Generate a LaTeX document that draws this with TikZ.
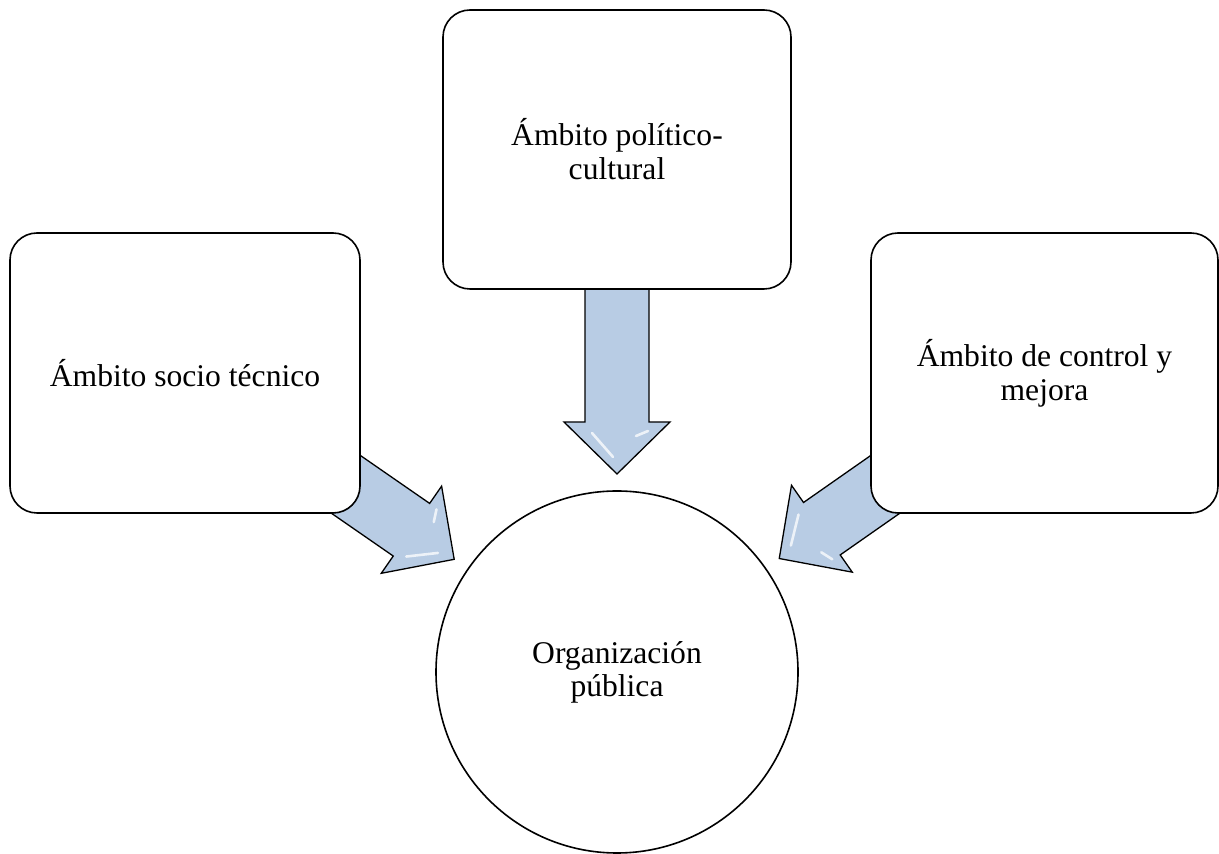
\documentclass[tikz,border=0pt]{standalone}
\usepackage{fontspec}
\setmainfont{Liberation Serif}
\usetikzlibrary{calc}
\pgfdeclarelayer{bg}
\pgfsetlayers{bg,main}
\definecolor{arrowblue}{RGB}{184,204,228}
\tikzset{
  ambox/.style={draw=black, line width=1.6pt, fill=white, rounded corners=27pt,
    align=center, inner sep=0pt, font=\fontsize{31.6}{34}\selectfont},
  orgcircle/.style={draw=black, line width=1.6pt, fill=white, circle,
    minimum size=362pt, align=center, inner sep=0pt, font=\fontsize{31.6}{33}\selectfont},
  blockarrow/.style={draw=black, line width=1.3pt, line join=miter, fill=arrowblue},
  streak/.style={draw=white, line width=2.6pt, line cap=round, opacity=0.75}
}
\newcommand\bigarrow[2]{%
  \path let \p1=($(#1.center)-(#2.center)$), \n1={atan2(\y1,\x1)} in
    \pgfextra{\xdef\arrang{\n1}};
  \begin{scope}[shift={(#2.center)}, rotate=\arrang]
    \draw[blockarrow] (198,0) -- (250,53) -- (250,32) -- (398,32) -- (398,-32)
      -- (250,-32) -- (250,-53) -- cycle;
    \draw[streak] (239,25) -- (215,4);
    \draw[streak] (236,-19) -- (241,-31);
  \end{scope}
}
\begin{document}
\begin{tikzpicture}[x=1pt,y=1pt]
\useasboundingbox (0,0) rectangle (1219,854);
\node[ambox, minimum width=348pt, minimum height=279pt] (pol) at (617,704.5) {Ámbito político-\\cultural};
\node[ambox, minimum width=350pt, minimum height=280pt] (soc) at (185,481) {Ámbito socio técnico};
\node[ambox, minimum width=347pt, minimum height=280pt] (con) at (1044.5,481) {Ámbito de control y\\mejora};
\node[orgcircle] (org) at (617,182) {Organización\\pública};
\begin{pgfonlayer}{bg}
  \bigarrow{pol}{org}
  \bigarrow{soc}{org}
  \bigarrow{con}{org}
\end{pgfonlayer}
\end{tikzpicture}
\end{document}
